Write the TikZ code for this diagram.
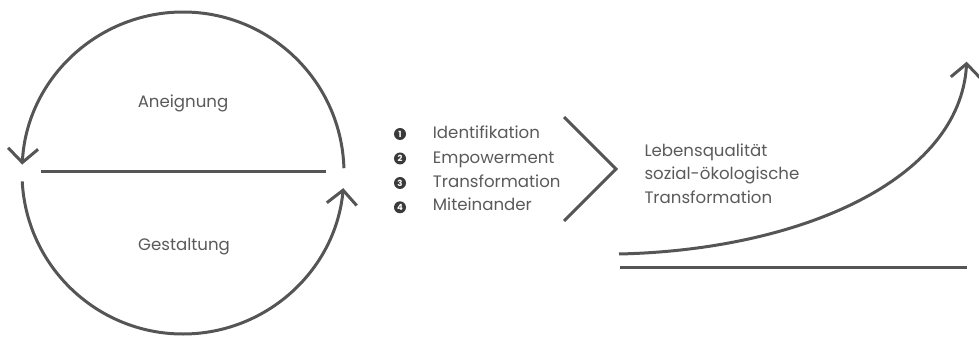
\documentclass[tikz,border=0pt]{standalone}
\usepackage{fontspec}
\setmainfont{Poppins}
\usetikzlibrary{arrows.meta,calc}
\definecolor{linec}{HTML}{555555}
\definecolor{textc}{HTML}{5A5A5A}
\definecolor{bulc}{HTML}{3A3A3A}
\tikzset{
  ln/.style={draw=linec, line width=3pt},
  barb/.style={-{Straight Barb[length=14pt, width=30pt]}},
  lbl/.style={text=textc, font=\fontsize{16.6}{19}\selectfont, inner sep=0pt, anchor=base west},
  clbl/.style={text=textc, font=\fontsize{16.6}{19}\selectfont, inner sep=0pt, anchor=base},
  bul/.style={circle, fill=bulc, inner sep=0pt, minimum size=12pt, text=white, font=\fontsize{8.5}{9}\selectfont\bfseries}
}
\begin{document}
\begin{tikzpicture}[x=1pt,y=1pt]
\useasboundingbox (0,0) rectangle (979,337);
% cycle
\coordinate (c) at (183,164);
\coordinate (ua) at ($(c)+(1.7:161)$);
\coordinate (la) at ($(c)+(183:161)$);
\draw[ln, barb] (ua) arc[start angle=1.7, end angle=177, radius=161] coordinate (ub);
\draw[ln, barb] (la) arc[start angle=183, end angle=354.6, radius=161] coordinate (lb);
\coordinate (hl) at (40.7,165.3);
\coordinate (hr) at (325.7,165.3);
\draw[ln] (hl) -- (hr);
\node[clbl] (aneig) at (183,229.7) {Aneignung};
\node[clbl] (gest) at (184,86.3) {Gestaltung};
% list
\node[bul] (b1) at (400,203) {1};
\node[bul] (b2) at (400,178.5) {2};
\node[bul] (b3) at (400,154) {3};
\node[bul] (b4) at (400,129.7) {4};
\node[lbl] (t1) at (432.7,198.7) {Identifikation};
\node[lbl] (t2) at (432.7,173.7) {Empowerment};
\node[lbl] (t3) at (432.7,149.7) {Transformation};
\node[lbl] (t4) at (432.7,126) {Miteinander};
% chevron
\coordinate (ct) at (564,220);
\coordinate (cm) at (616,168);
\coordinate (cb) at (564,116);
\draw[ln] (ct) -- (cm) -- (cb);
% right text
\node[lbl] (r1) at (644.3,180.3) {Lebensqualität};
\node[lbl] (r2) at (644.3,157) {sozial-ökologische};
\node[lbl] (r3) at (644.3,133.7) {Transformation};
% growth curve
\coordinate (gs) at (619,83);
\coordinate (ge) at (966.7,275.3);
\draw[ln, barb] (gs) .. controls (800,87) and (960,157) .. (ge);
\coordinate (bl) at (620,69.3);
\coordinate (br) at (967.3,69.3);
\draw[ln] (bl) -- (br);
\end{tikzpicture}
\end{document}
